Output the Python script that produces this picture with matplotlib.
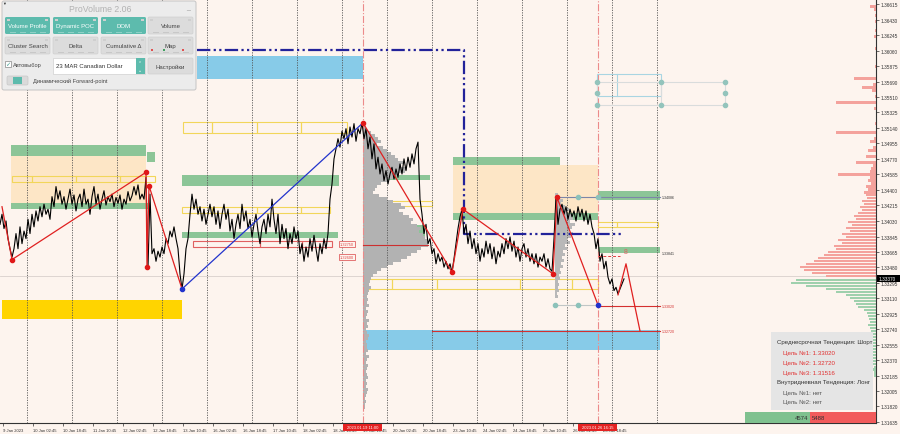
import numpy as np
import matplotlib.pyplot as plt
from matplotlib.patches import Rectangle, FancyBboxPatch

plt.rcParams['font.family'] = ['Liberation Sans', 'DejaVu Sans']

# шкала цены (правая ось) и подписи времени
price_ticks = [1.36615, 1.36430, 1.36245, 1.36060, 1.35875, 1.35690, 1.35510,
               1.35325, 1.35140, 1.34955, 1.34770, 1.34585, 1.34400, 1.34215,
               1.34030, 1.33845, 1.33665, 1.33480, 1.33295, 1.33110, 1.32925,
               1.32740, 1.32555, 1.32370, 1.32185, 1.32005, 1.31820, 1.31635]
time_labels = ['9 Jan 2023', '10 Jan 02:45', '10 Jan 18:45', '11 Jan 10:45',
               '12 Jan 02:45', '12 Jan 18:45', '13 Jan 10:45', '16 Jan 02:45',
               '16 Jan 18:45', '17 Jan 10:45', '18 Jan 02:45', '18 Jan 18:45',
               '19 Jan 10:45', '20 Jan 02:45', '20 Jan 18:45', '23 Jan 10:45',
               '24 Jan 02:45', '24 Jan 18:45', '25 Jan 10:45', '26 Jan 02:45',
               '26 Jan 18:45']
time_label_bars = [3, 33, 63, 93, 123, 153, 183, 213, 243, 273, 303, 333, 363,
                   393, 423, 453, 483, 513, 543, 573, 603]
day_sep_bars = [27, 72, 117, 162, 207, 252, 297, 342, 387, 432, 477, 522, 567, 612, 657]
session_bars = [363, 598]

# цена закрытия (каждый 2-й бар)
bars = np.arange(0, 626, 2)
close = [
    1.3399, 1.3411, 1.3394, 1.3403, 1.3382, 1.3370, 1.3360,
    1.3370, 1.3388, 1.3370, 1.3396, 1.3376, 1.3391, 1.3382, 1.3405, 1.3388, 1.3411,
    1.3396, 1.3415, 1.3403, 1.3420, 1.3408, 1.3423, 1.3411, 1.3417, 1.3405, 1.3432,
    1.3420, 1.3444, 1.3429,
    1.3439, 1.3423, 1.3432, 1.3417, 1.3429, 1.3441, 1.3423, 1.3434, 1.3415, 1.3429,
    1.3435, 1.3420, 1.3441, 1.3423, 1.3429, 1.3411, 1.3432, 1.3444, 1.3423, 1.3435,
    1.3417, 1.3429, 1.3439, 1.3422, 1.3432, 1.3426, 1.3435, 1.3420, 1.3431, 1.3424,
    1.3434, 1.3417, 1.3429, 1.3423, 1.3438, 1.3427, 1.3433, 1.3444, 1.3434, 1.3446,
    1.3429, 1.3435, 1.3429,
    1.3455, 1.3348, 1.3435, 1.3364, 1.3370, 1.3355, 1.3367, 1.3360, 1.3372, 1.3364,
    1.3382, 1.3376, 1.3391, 1.3384, 1.3396, 1.3382, 1.3370, 1.3340, 1.3322,
    1.3340, 1.3370, 1.3382, 1.3411, 1.3435, 1.3417, 1.3429, 1.3411, 1.3420, 1.3403,
    1.3417, 1.3399, 1.3411, 1.3423, 1.3408, 1.3420, 1.3399, 1.3415, 1.3394, 1.3411,
    1.3423, 1.3405, 1.3417, 1.3391, 1.3405, 1.3382, 1.3399, 1.3411, 1.3394, 1.3423,
    1.3403, 1.3415, 1.3394, 1.3405, 1.3384, 1.3399, 1.3411, 1.3391, 1.3376, 1.3396,
    1.3405, 1.3388, 1.3411, 1.3396, 1.3429, 1.3405, 1.3388, 1.3411, 1.3376, 1.3399,
    1.3382, 1.3394, 1.3370, 1.3388, 1.3376, 1.3396, 1.3382, 1.3391, 1.3364, 1.3376,
    1.3355, 1.3372, 1.3360, 1.3382, 1.3367, 1.3386, 1.3370, 1.3355, 1.3376, 1.3364,
    1.3382, 1.3370, 1.3388,
    1.3429, 1.3447, 1.3477, 1.3489, 1.3501, 1.3491, 1.3510, 1.3501, 1.3513, 1.3495,
    1.3515, 1.3503, 1.3519, 1.3498, 1.3513, 1.3507, 1.3520,
    1.3501, 1.3513, 1.3489, 1.3503, 1.3477, 1.3495, 1.3465, 1.3479, 1.3459, 1.3471,
    1.3451, 1.3463, 1.3447, 1.3459, 1.3467, 1.3453, 1.3465, 1.3455, 1.3471, 1.3459,
    1.3477, 1.3463, 1.3479, 1.3467, 1.3483, 1.3471, 1.3489, 1.3497, 1.3429, 1.3411,
    1.3388, 1.3399, 1.3376, 1.3382, 1.3364, 1.3370, 1.3352, 1.3364, 1.3355, 1.3360,
    1.3348, 1.3355, 1.3346, 1.3352, 1.3342,
    1.3358, 1.3376, 1.3394, 1.3408, 1.3417,
    1.3388, 1.3399, 1.3376, 1.3391, 1.3370, 1.3382, 1.3364, 1.3376, 1.3355, 1.3370,
    1.3360, 1.3379, 1.3364, 1.3376, 1.3358, 1.3372, 1.3352, 1.3367, 1.3360, 1.3376,
    1.3364, 1.3382, 1.3370, 1.3384, 1.3367, 1.3379, 1.3360, 1.3372, 1.3355, 1.3370,
    1.3376, 1.3360, 1.3370, 1.3355, 1.3364, 1.3352, 1.3364, 1.3348, 1.3360, 1.3355,
    1.3364, 1.3348, 1.3358, 1.3346, 1.3343,
    1.3382, 1.3432, 1.3399, 1.3417, 1.3423, 1.3411, 1.3420, 1.3405, 1.3417, 1.3408,
    1.3415, 1.3403, 1.3420, 1.3408, 1.3417, 1.3403, 1.3415, 1.3399, 1.3411, 1.3396,
    1.3388, 1.3370, 1.3382, 1.3355, 1.3364, 1.3346, 1.3355, 1.3336, 1.3328, 1.3334,
    1.3320, 1.3324, 1.3316, 1.3322, 1.3328, 1.3334,
]
current_price = 1.33370

# зигзаг
zz_a_bars = [2, 12, 146, 147, 149, 182]
zz_a_price = [1.3420, 1.3357, 1.3461, 1.3348, 1.3445, 1.3322]
zz_up_bars = [182, 363]
zz_up_price = [1.3322, 1.3520]
zz_b_bars = [363, 452, 463, 553, 557, 598]
zz_b_price = [1.3520, 1.3342, 1.3417, 1.3340, 1.3431, 1.3303]
proj_bars = [618, 626, 640]
proj_price = [1.3315, 1.3352, 1.3272]
red_pts_bars = [12, 146, 149, 147, 363, 452, 463, 553, 557]
red_pts_price = [1.3357, 1.3461, 1.3445, 1.3348, 1.3520, 1.3342, 1.3417, 1.3340, 1.3431]
blue_pts_bars = [182, 598]
blue_pts_price = [1.3322, 1.3303]
teal_pts_bars = [578, 598, 555, 578]
teal_pts_price = [1.3431, 1.3431, 1.3303, 1.3303]

# зоны (бар от, бар до, цена верх, цена низ)
green_zones = [(11, 146, 1.3494, 1.3481), (147, 155, 1.3485, 1.3473),
               (11, 150, 1.3424, 1.3417), (182, 339, 1.3458, 1.3445),
               (182, 338, 1.3390, 1.3383), (363, 430, 1.3458, 1.3452),
               (363, 425, 1.3398, 1.3385), (453, 560, 1.3479, 1.3470),
               (453, 598, 1.3413, 1.3404), (598, 660, 1.3439, 1.3428),
               (598, 660, 1.3372, 1.3365)]
peach_zones = [(11, 146, 1.3481, 1.3424), (453, 598, 1.3470, 1.3413)]
blue_zones = [(197, 363, 1.3599, 1.3572), (363, 660, 1.3273, 1.3249)]
gold_zones = [(2, 182, 1.3309, 1.3286)]
yellow_boxes = [(12, 32, 1.3457, 1.3450), (32, 76, 1.3457, 1.3450),
                (76, 120, 1.3457, 1.3450), (120, 155, 1.3457, 1.3450),
                (183, 212, 1.3521, 1.3508), (212, 257, 1.3521, 1.3508),
                (257, 301, 1.3521, 1.3508), (301, 347, 1.3521, 1.3508),
                (182, 212, 1.3420, 1.3413), (212, 257, 1.3420, 1.3413),
                (257, 301, 1.3420, 1.3413), (301, 330, 1.3420, 1.3413),
                (363, 390, 1.3427, 1.3421), (390, 432, 1.3427, 1.3421),
                (363, 392, 1.3334, 1.3322), (392, 437, 1.3334, 1.3322),
                (437, 520, 1.3334, 1.3322), (520, 572, 1.3334, 1.3322),
                (572, 598, 1.3334, 1.3322),
                (598, 617, 1.3402, 1.3396), (617, 658, 1.3402, 1.3396)]
red_boxes = [(193, 260, 1.3379, 1.3372), (260, 302, 1.3379, 1.3372),
             (302, 332, 1.3379, 1.3372)]
nav_bars = [197, 464, 464, 622]
nav_price = [1.3607, 1.3607, 1.3388, 1.3388]
target_levels = [1.33020, 1.32720]
target_from = [598, 432]

# объёмный профиль сессии (ширина в барах)
vp_top, vp_step = 1.3516, 0.000357
vp_widths = [2, 4, 8, 12, 15, 18, 14, 20, 24, 28, 32, 35, 40, 38, 44, 42, 36, 30,
             24, 18, 14, 12, 10, 16, 24, 30, 38, 42, 36, 40, 46, 50, 48, 54, 58,
             56, 60, 62, 64, 66, 65, 58, 54, 48, 44, 38, 30, 24, 18, 14, 10, 8, 7,
             6, 8, 6, 5, 4, 5, 4, 6, 3, 5, 4, 3, 6, 4, 5, 3, 4, 6, 5, 3, 4, 4, 5,
             3, 6, 4, 3, 5, 4, 3, 4, 5, 3, 4, 3, 5, 4, 3, 2, 3, 2, 2]
vp2_top = 1.3434
vp2_widths = [3, 5, 8, 6, 10, 14, 12, 16, 18, 15, 20, 17, 14, 18, 16, 12, 15, 10,
              12, 8, 10, 7, 9, 6, 8, 5, 6, 4, 5, 3, 4, 3, 4, 2, 3]
# профиль справа: продажи сверху, покупки снизу
sell_top = 1.3662
sell_widths = [0, 6, 2, 0, 1, 0, 1, 0, 0, 1, 0, 2, 0, 0, 0, 1, 0, 0, 0, 0,
               0, 1, 0, 0, 0, 22, 0, 3, 14, 4, 0, 1, 0, 40, 0, 2, 0, 0, 0, 0,
               1, 0, 0, 40, 0, 2, 6, 0, 3, 8, 0, 10, 0, 20, 3, 5, 6, 38, 6, 8,
               5, 10, 8, 12, 10, 9, 14, 12, 16, 14, 18, 22, 20, 28, 24, 30, 26, 34,
               30, 38, 34, 42, 40, 48, 52, 58, 62, 70, 76, 72, 64, 50]
buy_top = 1.3333
buy_widths = [80, 85, 70, 50, 40, 30, 26, 22, 20, 18, 12, 9, 8, 7, 6, 8, 6, 5, 6,
              5, 4, 5, 4, 45, 4, 3, 4, 3, 3, 2, 3, 2, 2]
sell_total, buy_total = 5488, 4574

bg = '#fdf4ee'
fig = plt.figure(figsize=(9, 4.35), dpi=100, facecolor=bg)
ax = fig.add_axes([0, 11 / 435, 876 / 900, 424 / 435])
ax.set_facecolor(bg)
ax.set_xlim(0, 876)
ax.set_ylim(1.31623, 1.36675)

def zone(x0, x1, p_hi, p_lo, **kw):
    ax.add_patch(Rectangle((x0, p_lo), x1 - x0, p_hi - p_lo, **kw))

for z in peach_zones:
    zone(*z, color='#fde6c6', lw=0, zorder=1)
for z in green_zones:
    zone(*z, color='#8cc597', lw=0, zorder=1.2)
for z in blue_zones:
    zone(*z, color='#87cbe8', lw=0, zorder=1)
for z in gold_zones:
    zone(*z, color='#ffd400', lw=0, zorder=1)
for z in yellow_boxes:
    zone(*z, fill=False, ec='#f2d65a', lw=0.8, zorder=1.3)
for z in red_boxes:
    zone(*z, fill=False, ec='#e06060', lw=0.8, zorder=1.3)

# профили объёма
vp_lv = vp_top - vp_step * np.arange(len(vp_widths))
ax.barh(vp_lv, vp_widths, height=vp_step, left=363, color='#b2b2b2', lw=0, zorder=1.5)
vp2_lv = vp2_top - vp_step * np.arange(len(vp2_widths))
ax.barh(vp2_lv, vp2_widths, height=vp_step, left=555, color='#b8b8b8', lw=0, zorder=1.5)
sell_lv = sell_top - vp_step * np.arange(len(sell_widths))
ax.barh(sell_lv, sell_widths, height=vp_step * 0.75, left=876 - np.array(sell_widths),
        color='#f4a29c', lw=0, zorder=1.5)
buy_lv = buy_top - vp_step * np.arange(len(buy_widths))
ax.barh(buy_lv, buy_widths, height=vp_step * 0.75, left=876 - np.array(buy_widths),
        color='#9fd0ad', lw=0, zorder=1.5)

for b in day_sep_bars:
    ax.axvline(b, color='#555555', lw=0.6, ls=(0, (1.5, 1.5)), zorder=2)
for b in session_bars:
    ax.axvline(b, color='#ec8a8a', lw=0.8, ls='-.', zorder=2)
ax.axhline(current_price, color='#d8d0cc', lw=0.6, zorder=1.4)

ax.plot(nav_bars, nav_price, color='#22229a', lw=1.6, ls=(0, (6, 1.5, 1, 1.5, 1, 1.5)), zorder=3)

# коробки справа сверху
ax.add_patch(Rectangle((597, 1.3552), 64, 0.0026, fill=False, ec='#a9d5e2', lw=0.8, zorder=2))
ax.plot([617, 617], [1.3552, 1.3578], color='#a9d5e2', lw=0.8, zorder=2)
for lv in [1.3569, 1.3541]:
    ax.plot([597, 725], [lv, lv], color='#d9dcdc', lw=0.8, zorder=2)
for b in [597, 661, 725]:
    ax.plot([b, b], [1.3541, 1.3569], color='#d9dcdc', lw=0.8, zorder=2)
ax.scatter([597, 597, 597, 661, 661, 725, 725, 725],
           [1.3569, 1.3556, 1.3541, 1.3569, 1.3541, 1.3569, 1.3556, 1.3541],
           s=9, color='#93c4bc', zorder=3)

ax.plot(bars, close, color='black', lw=0.8, zorder=4)

ax.plot(zz_a_bars, zz_a_price, color='#e02020', lw=0.9, zorder=5)
ax.plot(zz_up_bars, zz_up_price, color='#2233cc', lw=0.9, zorder=5)
ax.plot(zz_b_bars, zz_b_price, color='#e02020', lw=0.9, zorder=5)
ax.plot(proj_bars, proj_price, color='#e02020', lw=0.9, zorder=5)
ax.plot([556, 660], [1.3431, 1.3431], color='#7c86a8', lw=0.8, zorder=4.5)
ax.plot([555, 598], [1.3303, 1.3303], color='#c0c6c6', lw=0.8, zorder=4.5)
ax.plot([598, 620], [1.3361, 1.3361], color='#e04040', lw=0.7, ls=(0, (3, 2)), zorder=5)
ax.plot([363, 428], [1.3374, 1.3374], color='#cc3030', lw=0.8, zorder=4.5)
for lv, b0 in zip(target_levels, target_from):
    ax.plot([b0, 660], [lv, lv], color='#d43030', lw=0.8, zorder=4.5)
    ax.text(662, lv, f'{lv:.5f}', color='#d43030', fontsize=2.6, va='center', zorder=6)
ax.text(662, 1.3431, '1.34086', color='#333333', fontsize=2.6, va='center', zorder=6)
ax.text(662, 1.3365, '1.33841', color='#333333', fontsize=2.6, va='center', zorder=6)
ax.text(626, 1.3362, '8', color='#e06060', fontsize=5, ha='center', va='bottom', zorder=6)
for lbl, lv in [('1.32750', 1.3376), ('1.32600', 1.3360)]:
    ax.text(340, lv, lbl, color='#e04040', fontsize=2.8, va='center', zorder=6,
            bbox=dict(boxstyle='square,pad=0.25', fc=bg, ec='#e06060', lw=0.6))

ax.scatter(red_pts_bars, red_pts_price, s=9, color='#e01818', zorder=6)
ax.scatter(blue_pts_bars, blue_pts_price, s=9, color='#2233cc', zorder=6)
ax.scatter(teal_pts_bars, teal_pts_price, s=9, color='#8cc2ba', zorder=6)

# оси
for s in ['left', 'top']:
    ax.spines[s].set_visible(False)
for s in ['bottom', 'right']:
    ax.spines[s].set_color('#333333')
    ax.spines[s].set_linewidth(0.8)
ax.yaxis.tick_right()
ax.set_yticks(price_ticks)
ax.set_yticklabels([f'{p:.5f}' for p in price_ticks])
ax.set_xticks(time_label_bars)
ax.set_xticklabels(time_labels)
for t in ax.get_xticklabels():
    t.set_ha('left')
ax.tick_params(axis='y', labelsize=3.4, length=2, width=0.5, pad=1.5, colors='#333333')
ax.tick_params(axis='x', labelsize=3.0, length=2, width=0.5, pad=1.5, colors='#333333')

# элементы интерфейса поверх графика (пиксельные координаты)
ov = fig.add_axes([0, 0, 1, 1], zorder=20)
ov.set_xlim(0, 900)
ov.set_ylim(435, 0)
ov.axis('off')
ov.patch.set_alpha(0)

def rbox(x, y, w, h, fc, ec='none', r=1.5, lw=0.5):
    ov.add_patch(FancyBboxPatch((x, y), w, h, boxstyle=f'round,pad=0,rounding_size={r}',
                                fc=fc, ec=ec, lw=lw))

# панель ProVolume
rbox(2, 2, 194, 89, '#ececec', '#c4c4c4', r=2, lw=0.7)
ov.text(100, 9.5, 'ProVolume 2.06', ha='center', va='center', fontsize=6.3, color='#b2b2b2')
ov.text(188, 8, '_', ha='center', va='center', fontsize=5, color='#999999')
ov.text(4, 3.5, '▼', ha='center', va='center', fontsize=2.8, color='#333333')
teal = '#5dbbad'
buttons = [('Volume Profile', 5, 18, True), ('Dynamic POC', 53, 18, True),
           ('DOM', 101, 18, True), ('Volume', 148, 18, False),
           ('Cluster Search', 5, 38, False), ('Delta', 53, 38, False),
           ('Cumulative Δ', 101, 38, False), ('Map', 148, 38, False)]
for txt, bx, by, on in buttons:
    rbox(bx, by, 45, 17, teal if on else '#dcdcdc', '#d0d0d0' if not on else 'none')
    ov.text(bx + 22.5, by + 8.5, txt, ha='center', va='center', fontsize=4.3,
            color='white' if on else '#444444')
    ov.add_patch(Rectangle((bx + 1.5, by + 1.5), 3, 2, fc='#cfcfcf', lw=0))
    ov.add_patch(Rectangle((bx + 40, by + 1.5), 3, 2, fc='#cfcfcf', lw=0))
    for k in range(4):
        ov.add_patch(Rectangle((bx + 5 + k * 10, by + 14.5), 6, 1,
                               fc='#8fd0c6' if on else '#c8c8c8', lw=0))
ov.add_patch(Rectangle((151, 50), 2, 2, fc='#e05050', lw=0))
ov.add_patch(Rectangle((182, 50), 2, 2, fc='#e05050', lw=0))
ov.add_patch(Rectangle((163, 50), 2, 2, fc='#40a060', lw=0))
ov.add_patch(Rectangle((63, 70), 2, 2, fc='#40a060', lw=0))
ov.add_patch(Rectangle((5, 62), 5.5, 5.5, fc='white', ec='#888888', lw=0.5))
ov.text(7.8, 64.5, '✓', ha='center', va='center', fontsize=4.5, color='#3a9a8c')
ov.text(13, 66, 'Автовыбор', va='center', fontsize=4.1, color='#444444')
ov.add_patch(Rectangle((53, 59), 92, 16, fc='white', ec='#d0d0d0', lw=0.5))
ov.add_patch(Rectangle((136, 59), 9, 16, fc=teal, lw=0))
ov.text(140.5, 64, '⌃', ha='center', va='center', fontsize=3.5, color='white')
ov.text(140.5, 70, '⌄', ha='center', va='center', fontsize=3.5, color='white')
ov.text(56, 67, '23 MAR Canadian Dollar', va='center', fontsize=4.3, color='#333333')
rbox(148, 59, 45, 16, '#dcdcdc', '#d0d0d0')
ov.text(170.5, 67, 'Настройки', ha='center', va='center', fontsize=4.3, color='#444444')
rbox(7, 77, 21, 9, '#dadada', '#c8c8c8', r=1.5)
ov.add_patch(Rectangle((13, 78), 9, 7, fc=teal, lw=0))
ov.text(33, 81.5, 'Динамический Forward-point', va='center', fontsize=4.1, color='#444444')

# панель тенденций
ov.add_patch(Rectangle((771, 333), 102, 78, fc='#e5e5e5', lw=0))
info = [('Среднесрочная Тенденция: Шорт', 777, 343, '#333333'),
        ('Цель №1: 1.33020', 783, 353, '#e03030'),
        ('Цель №2: 1.32720', 783, 363, '#e03030'),
        ('Цель №3: 1.31516', 783, 373, '#e03030'),
        ('Внутридневная Тенденция: Лонг', 777, 383, '#333333'),
        ('Цель №1: нет', 783, 393, '#555555'),
        ('Цель №2: нет', 783, 402, '#555555')]
for txt, tx, ty, col in info:
    t = ov.text(tx, ty, txt, va='center', fontsize=4.4, color=col)
    t.set_clip_path(Rectangle((771, 333), 102, 78, transform=ov.transData))

# баланс покупок/продаж
ov.add_patch(Rectangle((745, 413), 65, 11, fc='#7fc18f', lw=0))
ov.add_patch(Rectangle((810, 413), 66, 11, fc='#f25b5b', lw=0))
ov.text(808, 418.5, str(buy_total), ha='right', va='center', fontsize=4.3, color='#333333')
ov.text(812, 418.5, str(sell_total), ha='left', va='center', fontsize=4.3, color='#333333')

# текущая цена на шкале
ov.add_patch(Rectangle((877, 276), 23, 7, fc='black', lw=0))
ov.text(879, 279.5, f'{current_price:.5f}', va='center', fontsize=3.4, color='white')

# метки времени сессий
for txt, bx in [('2023.01.19 11:00', 343), ('2023.01.26 16:15', 578)]:
    ov.add_patch(Rectangle((bx, 425), 39, 7, fc='#e52222', lw=0))
    ov.text(bx + 19.5, 428.5, txt, ha='center', va='center', fontsize=3.0, color='white')

fig.savefig('out.png', dpi=100, facecolor=bg)
